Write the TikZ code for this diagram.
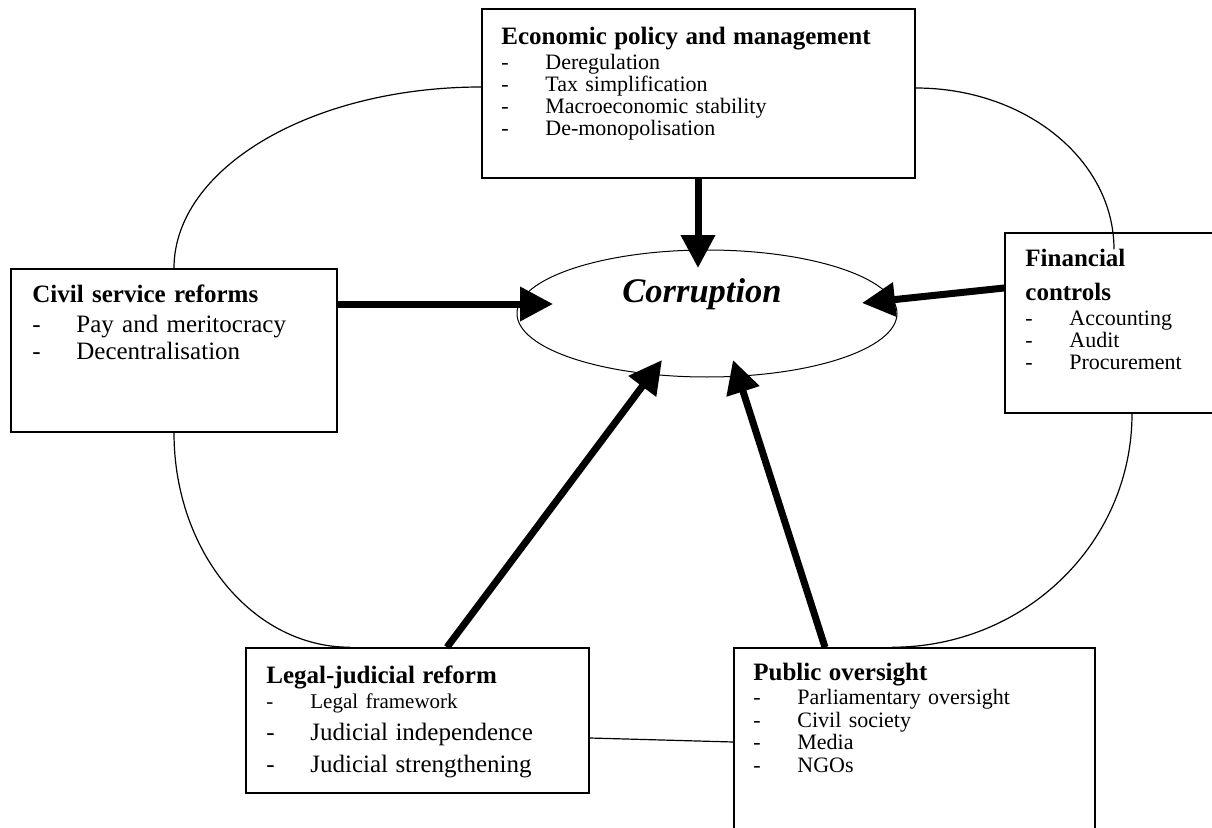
\documentclass[tikz,border=0pt]{standalone}
\usepackage{fontspec}
\setmainfont{Liberation Serif}
\usetikzlibrary{shapes.geometric,arrows.meta}
\newcommand{\itm}[1]{\makebox[22pt][l]{-}#1}
\newcommand{\hd}[1]{{\fontsize{12.5}{12.5}\selectfont\bfseries #1}}
\newcommand{\bigitm}[1]{{\fontsize{12.5}{12.5}\selectfont\itm{#1}}}

\begin{document}
\begin{tikzpicture}[x=0.5pt,y=0.5pt,
  box/.style={draw,line width=0.75pt,inner sep=0pt},
  txt/.style={anchor=base west,inner sep=0pt,align=left,font=\fontsize{11}{11}\selectfont},
  link/.style={line width=0.6pt},
  push/.style={line width=3.5pt,-{Triangle[length=16.5pt,width=16.5pt]}}]
\useasboundingbox (0,0) rectangle (1212,827);

% Boxes round the centre
\node[box,minimum width=216.5pt,minimum height=84.5pt] (econ) at (698.5,733.5) {};
\node[box,minimum width=163pt,minimum height=81.5pt] (civil) at (174,476.5) {};
\node[box,minimum width=107.5pt,minimum height=90pt] (fin) at (1112.5,504) {};
\node[box,minimum width=171.5pt,minimum height=72.5pt] (legal) at (417.5,106.5) {};
\node[box,minimum width=180.5pt,minimum height=106pt] (pub) at (914.5,73) {};

% Box texts
\node[txt,text width=200pt] (econtxt) at (501,782) {\hd{Economic policy and management}\\[1.5pt]
  \itm{Deregulation}\\ \itm{Tax simplification}\\ \itm{Macroeconomic stability}\\ \itm{De-monopolisation}};
\node[txt,text width=150pt,font=\fontsize{12.5}{13.5}\selectfont] (civiltxt) at (32,525) {\hd{Civil service reforms}\\[1.5pt]
  \itm{Pay and meritocracy}\\ \itm{Decentralisation}};
\node[txt,text width=95pt] (fintxt) at (1025,560) {\hd{Financial}\\[5.5pt]\hd{controls}\\[1.5pt]
  \itm{Accounting}\\[0.5pt] \itm{Audit}\\ \itm{Procurement}};
\node[txt,text width=160pt] (legaltxt) at (266,144) {\hd{Legal-judicial reform}\\[1.5pt]
  {\fontsize{10.5}{11}\selectfont\itm{Legal framework}}\\[5pt]
  \bigitm{Judicial independence}\\[4pt] \bigitm{Judicial strengthening}};
\node[txt,text width=140pt] (pubtxt) at (753,147) {\hd{Public oversight}\\[1pt]
  \itm{Parliamentary oversight}\\[0.5pt] \itm{Civil society}\\ \itm{Media}\\[0.5pt] \itm{NGOs}};

% Corruption
\node[draw,ellipse,line width=0.5pt,minimum width=190pt,minimum height=63.5pt,inner sep=0pt] (corr) at (707,513.5) {};
\node[anchor=base,inner sep=0pt,font=\fontsize{17.25}{17.25}\selectfont\bfseries\itshape] (corrtxt) at (702,525) {Corruption};

% Thin links between the boxes
\draw[link] ([yshift=3.25pt]econ.west) .. controls +(-170,0) and +(0,100) .. (civil.north);
\draw[link] ([yshift=2.75pt]econ.east) .. controls +(110,0) and +(0,89) .. ([xshift=0.75pt,yshift=-8.5pt]fin.north);
\draw[link] (civil.south) .. controls +(0,-119) and +(-97,0) .. ([xshift=-33.75pt]legal.north);
\draw[link] ([xshift=9.75pt]fin.south) .. controls +(0,-130) and +(132,0) .. ([xshift=-11.25pt]pub.north);
\draw[link] ([yshift=-8.75pt]legal.east) -- ([yshift=6pt]pub.west);

% Arrows into corruption
\coordinate (tipN) at (698,559);
\coordinate (tipW) at (553,523);
\coordinate (tipE) at (862,524);
\coordinate (tipSW) at (662,467);
\coordinate (tipSE) at (733,467);
\draw[push] (econ.south -| tipN) -- (tipN);
\draw[push] (civil.east |- tipW) -- (tipW);
\draw[push] ([yshift=17.5pt]fin.west) -- (tipE);
\draw[push] ([xshift=14.75pt]legal.north) -- (tipSW);
\draw[push] ([xshift=-44.75pt]pub.north) -- (tipSE);
\end{tikzpicture}
\end{document}
